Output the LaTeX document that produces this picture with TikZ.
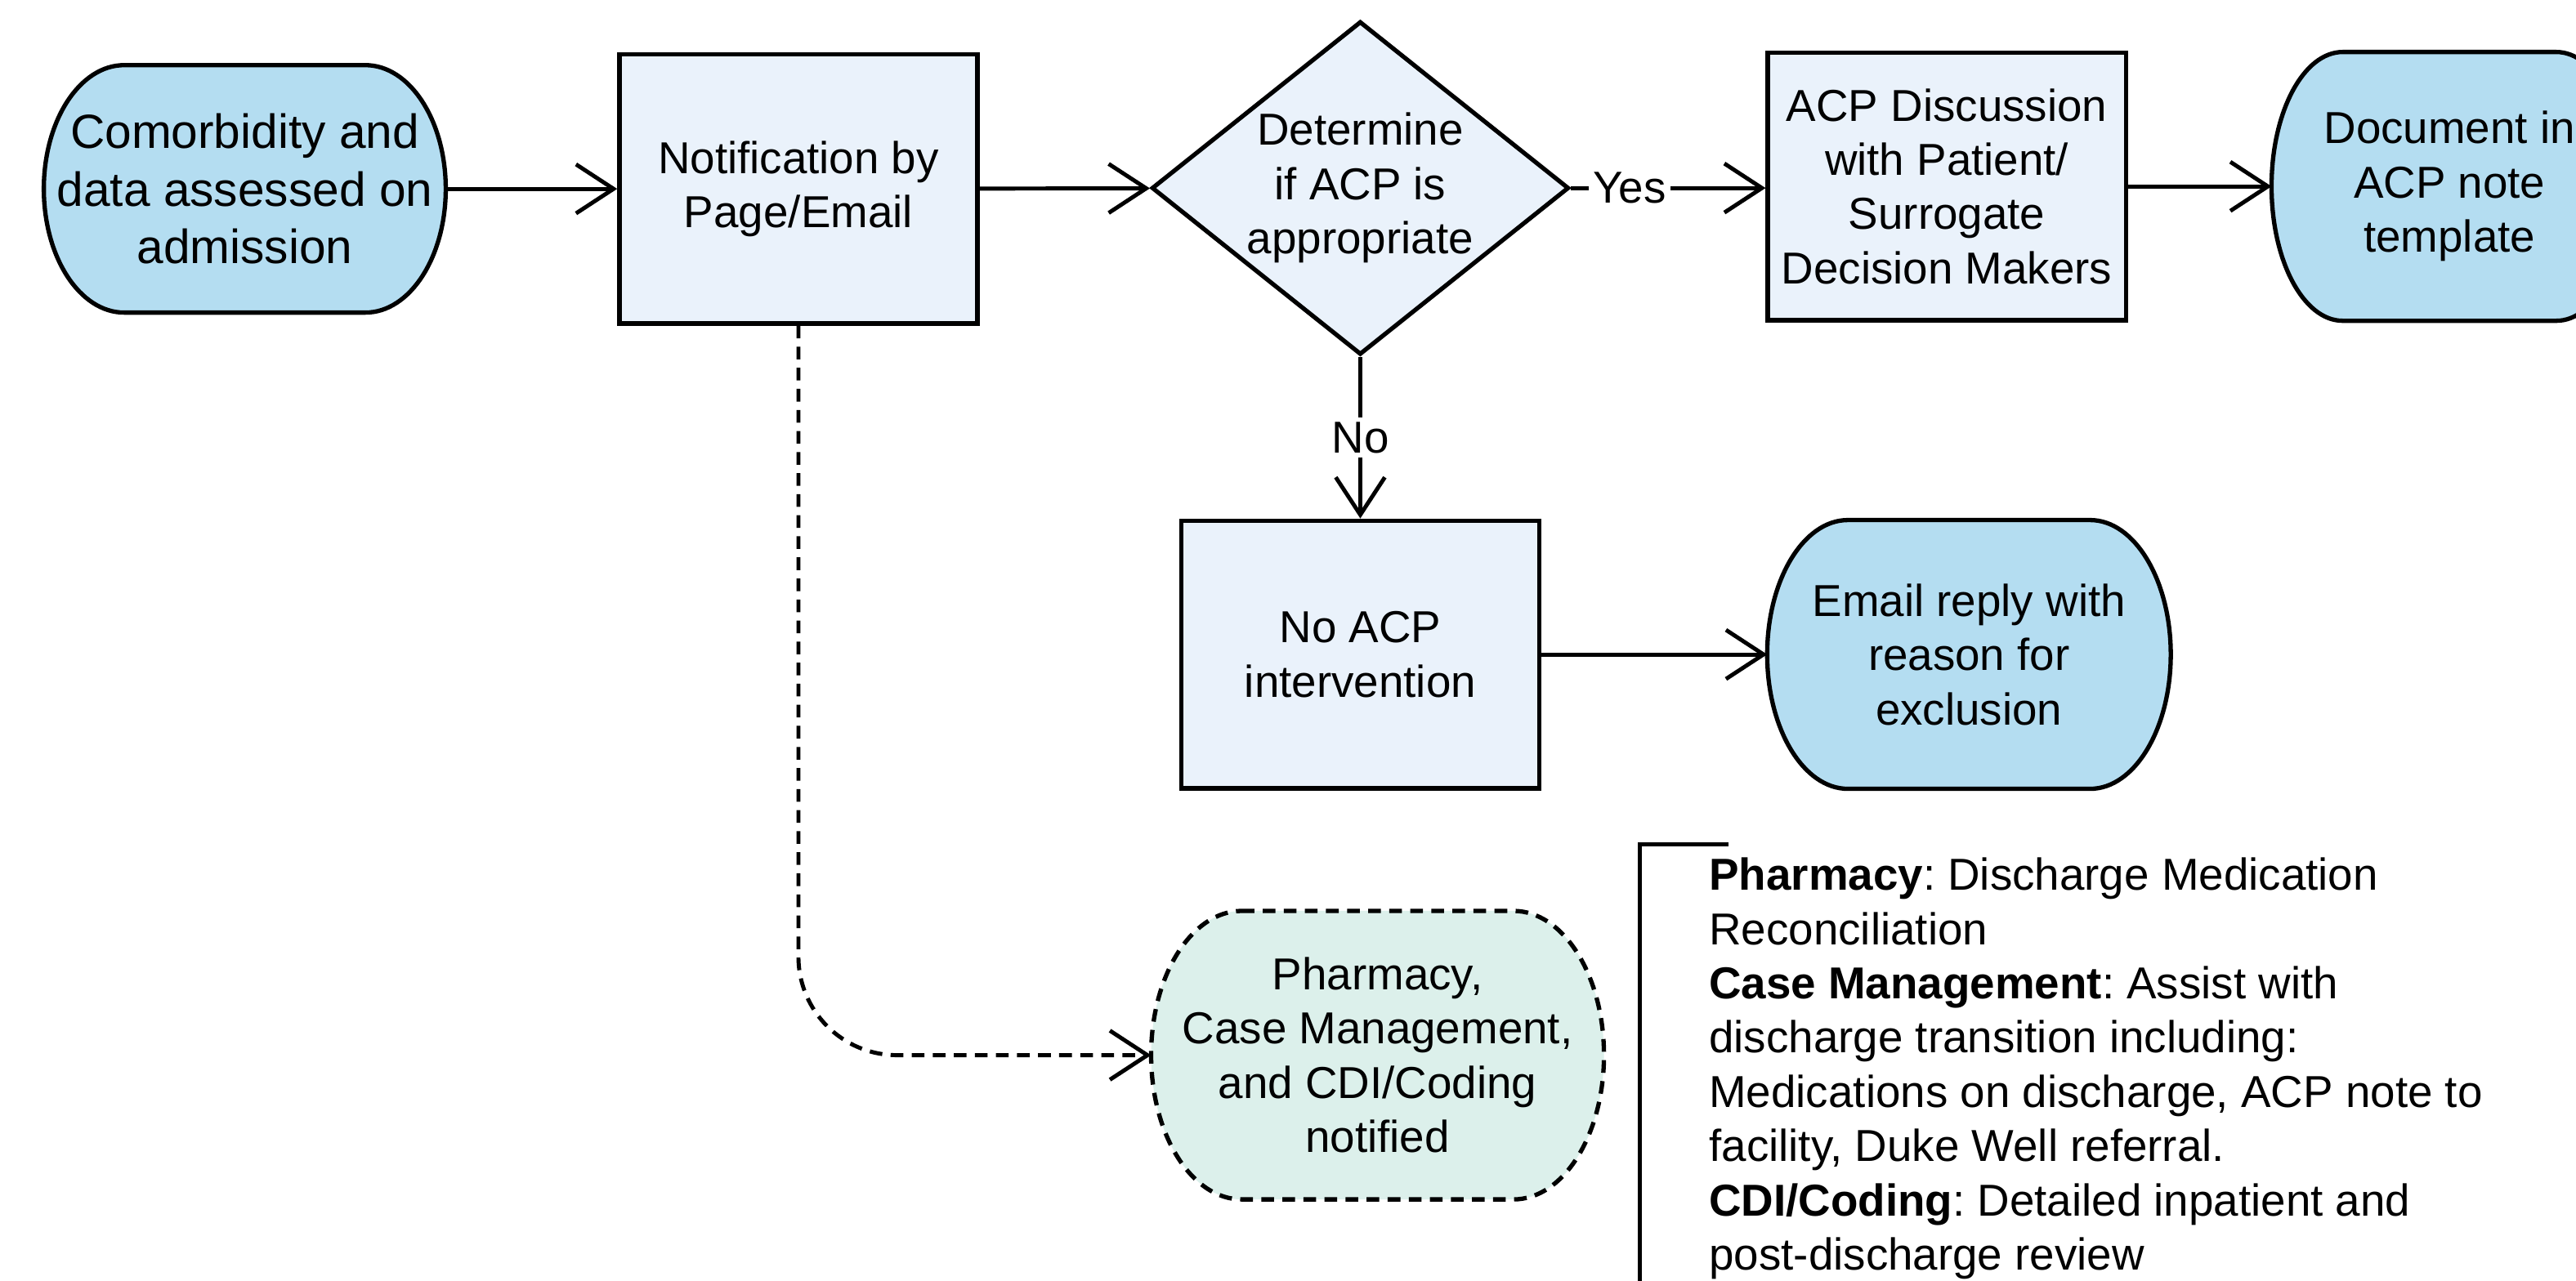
\documentclass[tikz,border=0pt]{standalone}
\usepackage{fontspec}
\setmainfont{Liberation Sans}
\usepackage{tikz}
\usetikzlibrary{positioning,arrows.meta,shapes.geometric,calc,backgrounds}
\usepackage{xcolor}
\frenchspacing

\definecolor{termfill}{RGB}{180,221,241}
\definecolor{boxfill}{RGB}{234,242,251}
\definecolor{mintfill}{RGB}{220,240,235}

\tikzset{
  base/.style={font=\fontsize{15.5pt}{18.8pt}\selectfont, align=center},
  procbox/.style={base, rectangle, draw, line width=1.5pt, fill=boxfill,
    minimum width=4.36cm, minimum height=3.26cm, inner sep=0pt},
  decision/.style={base, diamond, draw, line width=1.5pt, fill=boxfill, shape aspect=1.25,
    minimum width=5.08cm, minimum height=4.06cm, inner sep=0pt},
  termbox/.style={base, rectangle, minimum height=3.26cm, inner sep=0pt},
  termline/.style={draw, line width=1.5pt, fill=termfill},
  flow/.style={line width=1.4pt, -{Straight Barb[length=13pt,width=17pt]}},
  lbl/.style={font=\fontsize{15.5pt}{18.8pt}\selectfont, fill=white, inner sep=1.5pt},
  notes/.style={font=\fontsize{15.5pt}{18.8pt}\selectfont, align=left, inner sep=0pt},
}

% outline with half-elliptic ends round a named node
\newcommand{\termoutline}[2][]{%
  \path[termline,#1] let \p1=(#2.north west), \p2=(#2.south east),
      \n1={(\y1-\y2)/2}, \n2={0.2*(\x2-\x1)} in
    (\x1+\n2,\y1) -- (\x2-\n2,\y1)
    arc[start angle=90, end angle=-90, x radius=\n2, y radius=\n1]
    -- (\x1+\n2,\y2)
    arc[start angle=270, end angle=90, x radius=\n2, y radius=\n1] -- cycle;}

\begin{document}
\begin{tikzpicture}[x=0.02cm,y=-0.02cm]
\useasboundingbox (0,0) rectangle (1568,780);

% top row
\node[termbox, minimum width=4.88cm, minimum height=3cm,
  font=\fontsize{16.6pt}{19.9pt}\selectfont] (admit) at (149,115)
  {Comorbidity and\\data assessed on\\admission};
\node[procbox, minimum height=3.28cm] (notif) at (486,115) {Notification by\\Page/Email};
\node[decision] (decide) at (828,114.5) {Determine\\if ACP is\\appropriate};
\node[procbox] (acpdisc) at (1185,113.5)
  {ACP Discussion\\with Patient/\\Surrogate\\Decision Makers};
\node[termbox, minimum width=4.32cm] (doc) at (1491,113.5) {Document in\\ACP note\\template};

% second row
\node[procbox] (noacp) at (828,398.5) {No ACP\\intervention};
\node[termbox, minimum width=4.9cm] (email) at (1198.5,398.5)
  {Email reply with\\reason for\\exclusion};

% team notice
\node[termbox, minimum width=5.5cm, minimum height=3.5cm] (notified) at (838.5,642.5)
  {Pharmacy,\\Case Management,\\and CDI/Coding\\notified};

\begin{scope}[on background layer]
\termoutline{admit}
\termoutline{doc}
\termoutline{email}
\termoutline[fill=mintfill, dash pattern=on 4.4pt off 2.9pt]{notified}
\end{scope}

\draw[flow] (admit) -- (notif);
\draw[flow] (notif) -- (decide);
\draw[flow] (decide) -- node[lbl, pos=0.3] {Yes} (decide.east -| acpdisc.west);
\draw[flow] (acpdisc) -- (doc);
\draw[flow] (decide) -- node[lbl] {No} (noacp);
\draw[flow] (noacp) -- (email);
\draw[flow, dash pattern=on 4.4pt off 2.9pt, rounded corners=1.2cm] (notif) |- (notified);

% roles
\node[notes, anchor=north west] (roles) at (1040,522)
  {\textbf{Pharmacy}: Discharge Medication\\
   Reconciliation\\
   \textbf{Case Management}: Assist with\\
   discharge transition including:\\
   Medications on discharge, ACP note to\\
   facility, Duke Well referral.\\
   \textbf{CDI/Coding}: Detailed inpatient and\\
   post-discharge review};
\draw[line width=1.5pt] (1052,514) -| (998,800);
\end{tikzpicture}
\end{document}
